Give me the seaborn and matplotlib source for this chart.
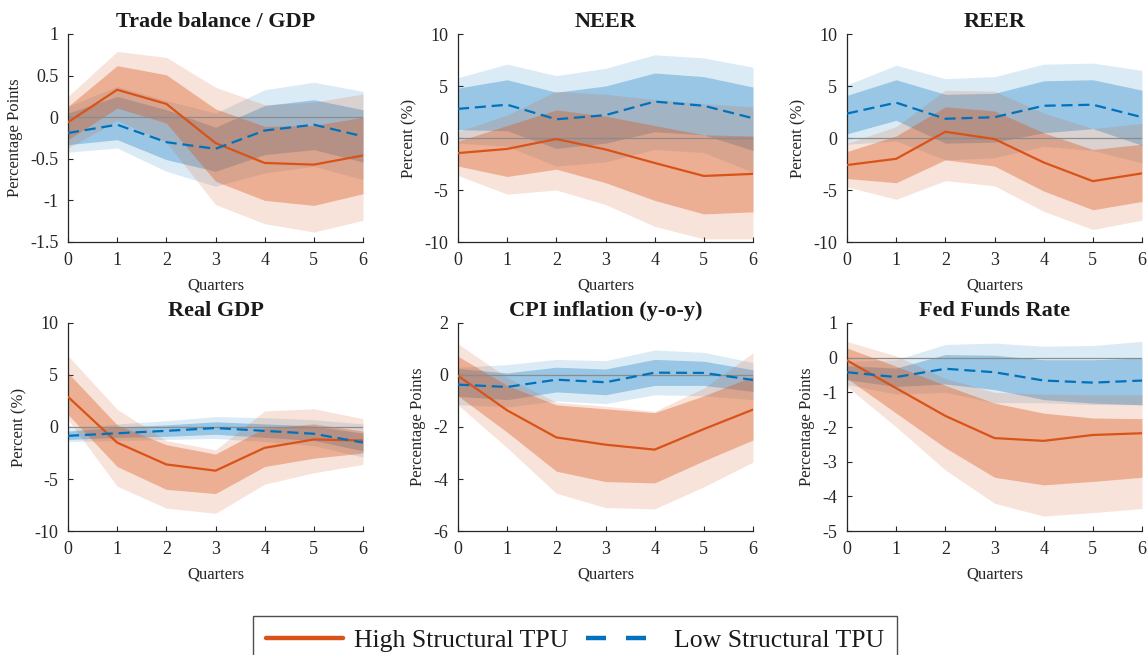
import numpy as np
import pandas as pd
import matplotlib
matplotlib.use("Agg")
import matplotlib.pyplot as plt
from matplotlib.lines import Line2D
from matplotlib.ticker import FuncFormatter
import seaborn as sns

# ---------------- data ----------------
quarters = [0, 1, 2, 3, 4, 5, 6]
series_labels = ["High Structural TPU", "Low Structural TPU"]

titles = ["Trade balance / GDP", "NEER", "REER", "Real GDP", "CPI inflation (y-o-y)", "Fed Funds Rate"]
ylabels = ["Percentage Points", "Percent (%)", "Percent (%)", "Percent (%)", "Percentage Points", "Percentage Points"]
yticks_tb = [-1.5, -1, -0.5, 0, 0.5, 1]
yticks_neer = [-10, -5, 0, 5, 10]
yticks_reer = [-10, -5, 0, 5, 10]
yticks_gdp = [-10, -5, 0, 5, 10]
yticks_cpi = [-6, -4, -2, 0, 2]
yticks_ffr = [-5, -4, -3, -2, -1, 0, 1]

# Trade balance / GDP
tb_high_med = [-0.06, 0.33, 0.16, -0.31, -0.55, -0.57, -0.46]
tb_high_in_hi = [0.13, 0.62, 0.51, 0.10, -0.11, -0.10, 0.0]
tb_high_in_lo = [-0.27, 0.11, -0.07, -0.77, -1.00, -1.06, -0.92]
tb_high_out_hi = [0.25, 0.79, 0.72, 0.36, 0.15, 0.18, 0.28]
tb_high_out_lo = [-0.37, -0.04, -0.30, -1.05, -1.28, -1.38, -1.24]
tb_low_med = [-0.19, -0.09, -0.30, -0.38, -0.16, -0.09, -0.23]
tb_low_in_hi = [0.05, 0.25, 0.09, -0.12, 0.14, 0.21, 0.09]
tb_low_in_lo = [-0.33, -0.27, -0.51, -0.65, -0.45, -0.39, -0.54]
tb_low_out_hi = [0.13, 0.37, 0.20, 0.05, 0.33, 0.42, 0.31]
tb_low_out_lo = [-0.42, -0.37, -0.65, -0.83, -0.67, -0.59, -0.75]

# NEER
neer_high_med = [-1.45, -1.05, -0.1, -1.1, -2.4, -3.65, -3.45]
neer_high_in_hi = [-0.3, 1.2, 2.7, 2.1, 1.2, 0.3, 0.2]
neer_high_in_lo = [-2.7, -3.7, -3.0, -4.3, -6.0, -7.3, -7.1]
neer_high_out_hi = [0.6, 2.2, 4.5, 4.2, 3.7, 3.3, 3.0]
neer_high_out_lo = [-3.6, -5.4, -5.0, -6.4, -8.5, -9.7, -9.7]
neer_low_med = [2.8, 3.2, 1.8, 2.2, 3.5, 3.1, 1.9]
neer_low_in_hi = [4.8, 5.6, 4.4, 5.0, 6.25, 5.9, 4.9]
neer_low_in_lo = [0.8, 0.7, -1.0, -0.5, 0.6, 0.3, -1.2]
neer_low_out_hi = [5.8, 7.1, 6.0, 6.7, 8.0, 7.7, 6.8]
neer_low_out_lo = [-0.5, -0.8, -2.7, -2.3, -1.1, -1.4, -3.3]

# REER
reer_high_med = [-2.6, -2.0, 0.6, -0.1, -2.35, -4.15, -3.4]
reer_high_in_hi = [-1.3, 0.2, 3.0, 2.6, 0.5, -1.1, -0.6]
reer_high_in_lo = [-3.9, -4.3, -2.1, -2.7, -5.1, -6.9, -6.1]
reer_high_out_hi = [-0.5, 1.1, 4.6, 4.5, 2.4, 0.9, 1.4]
reer_high_out_lo = [-4.7, -5.9, -4.1, -4.6, -7.05, -8.8, -7.9]
reer_low_med = [2.35, 3.4, 1.85, 2.0, 3.1, 3.2, 2.0]
reer_low_in_hi = [4.1, 5.6, 4.2, 4.3, 5.5, 5.6, 4.6]
reer_low_in_lo = [0.4, 1.7, -0.5, -0.4, 0.5, 0.9, -0.7]
reer_low_out_hi = [5.1, 7.0, 5.7, 5.9, 7.1, 7.2, 6.5]
reer_low_out_lo = [-0.6, -0.3, -2.1, -1.9, -0.8, -1.2, -2.4]

# Real GDP
gdp_high_med = [2.9, -1.5, -3.6, -4.2, -2.0, -1.2, -1.3]
gdp_high_in_hi = [5.2, 0.2, -1.7, -2.6, -0.1, 0.3, -0.4]
gdp_high_in_lo = [1.2, -3.8, -6.0, -6.4, -3.8, -3.0, -2.5]
gdp_high_out_hi = [6.85, 1.7, -1.3, -2.2, 1.55, 1.75, 0.8]
gdp_high_out_lo = [0.7, -5.7, -7.8, -8.3, -5.5, -4.4, -3.6]
gdp_low_med = [-0.85, -0.6, -0.37, -0.1, -0.37, -0.65, -1.5]
gdp_low_in_hi = [-0.4, 0.0, 0.2, 0.5, 0.3, 0.1, -0.6]
gdp_low_in_lo = [-1.2, -1.0, -0.9, -0.7, -1.0, -1.3, -2.3]
gdp_low_out_hi = [-0.2, 0.3, 0.6, 1.0, 0.9, 0.7, 0.3]
gdp_low_out_lo = [-1.4, -1.3, -1.2, -1.1, -1.4, -1.8, -2.9]

# CPI inflation
cpi_high_med = [-0.03, -1.36, -2.4, -2.68, -2.87, -2.08, -1.33]
cpi_high_in_hi = [0.72, -0.4, -1.15, -1.3, -1.45, -0.8, -0.05]
cpi_high_in_lo = [-0.8, -2.2, -3.7, -4.1, -4.15, -3.3, -2.5]
cpi_high_out_hi = [1.2, -0.1, -1.05, -1.2, -1.4, -0.5, 0.85]
cpi_high_out_lo = [-1.15, -2.8, -4.55, -5.1, -5.15, -4.3, -3.35]
cpi_low_med = [-0.37, -0.46, -0.18, -0.28, 0.09, 0.08, -0.19]
cpi_low_in_hi = [0.25, 0.08, 0.3, 0.23, 0.6, 0.53, 0.2]
cpi_low_in_lo = [-0.82, -0.95, -0.65, -0.76, -0.4, -0.4, -0.63]
cpi_low_out_hi = [0.3, 0.4, 0.6, 0.55, 0.96, 0.87, 0.48]
cpi_low_out_lo = [-1.14, -1.23, -1.0, -1.1, -0.76, -0.8, -0.95]

# Fed Funds Rate
ffr_high_med = [-0.08, -0.88, -1.68, -2.32, -2.4, -2.23, -2.18]
ffr_high_in_hi = [0.28, -0.25, -0.8, -1.31, -1.6, -1.74, -1.76]
ffr_high_in_lo = [-0.6, -1.6, -2.6, -3.45, -3.67, -3.57, -3.45]
ffr_high_out_hi = [0.47, 0.05, -0.6, -1.0, -1.05, -1.07, -1.07]
ffr_high_out_lo = [-0.83, -2.0, -3.24, -4.2, -4.57, -4.47, -4.35]
ffr_low_med = [-0.42, -0.56, -0.32, -0.42, -0.66, -0.72, -0.66]
ffr_low_in_hi = [-0.23, -0.3, 0.09, 0.07, -0.06, -0.06, -0.01]
ffr_low_in_lo = [-0.64, -0.83, -0.76, -0.92, -1.21, -1.31, -1.36]
ffr_low_out_hi = [-0.1, -0.06, 0.38, 0.42, 0.33, 0.35, 0.47]
ffr_low_out_lo = [-0.78, -1.05, -1.0, -1.3, -1.3, -1.35, -1.36]

panels = [
    (tb_high_med, tb_high_in_lo, tb_high_in_hi, tb_high_out_lo, tb_high_out_hi,
     tb_low_med, tb_low_in_lo, tb_low_in_hi, tb_low_out_lo, tb_low_out_hi, yticks_tb),
    (neer_high_med, neer_high_in_lo, neer_high_in_hi, neer_high_out_lo, neer_high_out_hi,
     neer_low_med, neer_low_in_lo, neer_low_in_hi, neer_low_out_lo, neer_low_out_hi, yticks_neer),
    (reer_high_med, reer_high_in_lo, reer_high_in_hi, reer_high_out_lo, reer_high_out_hi,
     reer_low_med, reer_low_in_lo, reer_low_in_hi, reer_low_out_lo, reer_low_out_hi, yticks_reer),
    (gdp_high_med, gdp_high_in_lo, gdp_high_in_hi, gdp_high_out_lo, gdp_high_out_hi,
     gdp_low_med, gdp_low_in_lo, gdp_low_in_hi, gdp_low_out_lo, gdp_low_out_hi, yticks_gdp),
    (cpi_high_med, cpi_high_in_lo, cpi_high_in_hi, cpi_high_out_lo, cpi_high_out_hi,
     cpi_low_med, cpi_low_in_lo, cpi_low_in_hi, cpi_low_out_lo, cpi_low_out_hi, yticks_cpi),
    (ffr_high_med, ffr_high_in_lo, ffr_high_in_hi, ffr_high_out_lo, ffr_high_out_hi,
     ffr_low_med, ffr_low_in_lo, ffr_low_in_hi, ffr_low_out_lo, ffr_low_out_hi, yticks_ffr),
]

# ---------------- style ----------------
sns.set_style("ticks")
plt.rcParams["font.family"] = ["Liberation Serif", "DejaVu Serif"]
plt.rcParams["axes.unicode_minus"] = False

ORANGE = "#D95319"
BLUE = "#0072BD"
AXCOL = "#262626"

fig = plt.figure(figsize=(11.48, 6.55), dpi=100)
W, H = 1148.0, 655.0
lefts = [68, 458, 847]
tops = [34, 323]
aw, ah = 295, 208

fmt = FuncFormatter(lambda v, p: "{:g}".format(v))

for i, p in enumerate(panels):
    (h_med, h_ilo, h_ihi, h_olo, h_ohi, l_med, l_ilo, l_ihi, l_olo, l_ohi, yt) = p
    r, c = divmod(i, 3)
    ax = fig.add_axes([lefts[c] / W, 1 - (tops[r] + ah) / H, aw / W, ah / H])

    # bands
    ax.fill_between(quarters, l_olo, l_ohi, color=BLUE, alpha=0.14, linewidth=0, zorder=1)
    ax.fill_between(quarters, l_ilo, l_ihi, color=BLUE, alpha=0.30, linewidth=0, zorder=1)
    ax.fill_between(quarters, h_olo, h_ohi, color=ORANGE, alpha=0.16, linewidth=0, zorder=1)
    ax.fill_between(quarters, h_ilo, h_ihi, color=ORANGE, alpha=0.36, linewidth=0, zorder=1)

    ax.axhline(0, color="#8c8c8c", linewidth=0.9, zorder=2)

    df = pd.DataFrame({"Quarters": quarters * 2,
                       "value": list(h_med) + list(l_med),
                       "scenario": [series_labels[0]] * 7 + [series_labels[1]] * 7})
    sns.lineplot(data=df, x="Quarters", y="value", hue="scenario", style="scenario",
                 palette={series_labels[0]: ORANGE, series_labels[1]: BLUE},
                 dashes={series_labels[0]: "", series_labels[1]: (5, 2.6)},
                 linewidth=1.6, ax=ax, legend=False, zorder=3)

    ax.set_xlim(0, 6)
    ax.set_ylim(yt[0], yt[-1])
    ax.set_xticks(quarters)
    ax.set_yticks(yt)
    ax.yaxis.set_major_formatter(fmt)
    ax.set_title(titles[i], fontsize=16, fontweight="bold", color="#1a1a1a", pad=5)
    ax.set_xlabel("Quarters", fontsize=12, color=AXCOL, labelpad=6)
    ax.set_ylabel(ylabels[i], fontsize=12, color=AXCOL, labelpad=5)
    ax.tick_params(direction="in", length=3.5, width=0.8, labelsize=13, colors=AXCOL, pad=7)
    for s in ["top", "right"]:
        ax.spines[s].set_visible(False)
    for s in ["left", "bottom"]:
        ax.spines[s].set_color(AXCOL)
        ax.spines[s].set_linewidth(0.9)
    ax.set_facecolor("white")

handles = [Line2D([0], [0], color=ORANGE, linewidth=3.2),
           Line2D([0], [0], color=BLUE, linewidth=3.2, dashes=(4.5, 4.5))]
leg = fig.legend(handles, series_labels, loc="upper center",
                 bbox_to_anchor=(575 / W, 1 - 616 / H), ncol=2, fontsize=18.5,
                 frameon=True, fancybox=False, edgecolor="#222222",
                 handlelength=3.0, handletextpad=0.43, columnspacing=0.66,
                 borderpad=0.5, borderaxespad=0.0)
leg.get_frame().set_linewidth(1.0)
for t in leg.get_texts():
    t.set_color("#1a1a1a")

fig.savefig("out.png", dpi=100)
